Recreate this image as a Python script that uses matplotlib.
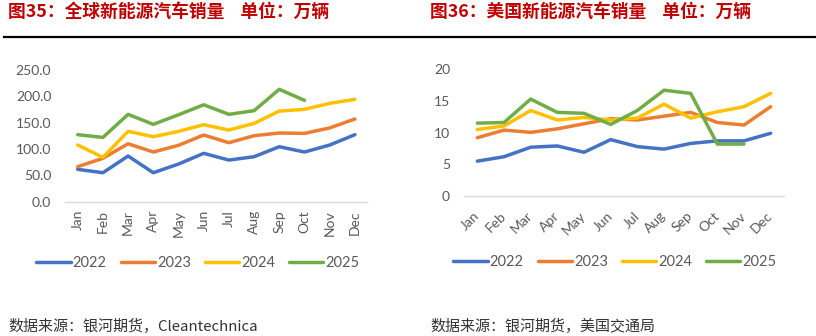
import matplotlib.pyplot as plt
from matplotlib.lines import Line2D

plt.rcParams['font.family'] = ['Lato', 'Noto Sans CJK SC', 'DejaVu Sans']

months = ['Jan', 'Feb', 'Mar', 'Apr', 'May', 'Jun', 'Jul', 'Aug', 'Sep', 'Oct', 'Nov', 'Dec']
years = ['2022', '2023', '2024', '2025']
colors = ['#4472C4', '#ED7D31', '#FFC000', '#70AD47']

# global NEV sales, 10k units
world_2022 = [61.4, 55.0, 86.7, 55.0, 71.5, 91.8, 79.0, 85.4, 104.4, 94.3, 107.6, 127.2]
world_2023 = [66.5, 82.3, 110.0, 94.3, 107.0, 126.6, 112.0, 125.3, 130.4, 129.7, 140.0, 157.0]
world_2024 = [107.6, 84.2, 133.5, 123.4, 133.5, 146.2, 136.0, 148.7, 172.0, 175.3, 186.7, 194.3]
world_2025 = [127.2, 122.0, 165.8, 146.8, 165.0, 184.0, 165.8, 172.8, 213.3, 192.4]

# US NEV sales, 10k units
us_2022 = [5.5, 6.2, 7.7, 7.9, 6.9, 8.9, 7.8, 7.4, 8.3, 8.7, 8.7, 9.9]
us_2023 = [9.2, 10.4, 10.05, 10.6, 11.4, 12.2, 12.0, 12.6, 13.2, 11.6, 11.2, 14.1]
us_2024 = [10.5, 11.05, 13.5, 12.0, 12.4, 12.0, 12.3, 14.5, 12.3, 13.3, 14.1, 16.2]
us_2025 = [11.5, 11.6, 15.3, 13.2, 13.05, 11.3, 13.5, 16.7, 16.2, 8.2, 8.2]

left_title = '图35：全球新能源汽车销量    单位：万辆'
right_title = '图36：美国新能源汽车销量    单位：万辆'
left_source = '数据来源：银河期货，Cleantechnica'
right_source = '数据来源：银河期货，美国交通局'

W, H = 816, 336
fig = plt.figure(figsize=(W / 100, H / 100), dpi=100)

tick_color = '#595959'
red = '#C00000'


def px(x0, y0, x1, y1):
    # pixel box -> figure fraction rect
    return [x0 / W, 1 - y1 / H, (x1 - x0) / W, (y1 - y0) / H]


def draw_panel(rect, series, ylim, yticks, yfmt, rot, legend_xy):
    ax = fig.add_axes(rect)
    for vals, c, lab in zip(series, colors, years):
        ax.plot(range(len(vals)), vals, color=c, lw=2.5, label=lab,
                solid_capstyle='round', solid_joinstyle='round')
    ax.set_xlim(-0.5, 11.5)
    ax.set_ylim(*ylim)
    ax.set_yticks(yticks)
    ax.set_yticklabels([yfmt.format(v) for v in yticks])
    ax.set_xticks(range(12))
    for s in ['top', 'right', 'left']:
        ax.spines[s].set_visible(False)
    ax.spines['bottom'].set_color('#D9D9D9')
    ax.spines['bottom'].set_linewidth(1.0)
    ax.tick_params(axis='both', length=0, labelsize=10, colors=tick_color)
    ax.tick_params(axis='y', pad=10)
    if rot == 90:
        ax.set_xticklabels(months, rotation=90, va='top', ha='center')
        ax.tick_params(axis='x', pad=6)
    else:
        ax.set_xticklabels(months, rotation=45, ha='right', va='center',
                           rotation_mode='anchor')
        ax.tick_params(axis='x', pad=13)
    ax.patch.set_alpha(0)
    fig.legend(*ax.get_legend_handles_labels(), loc='center',
               bbox_to_anchor=(legend_xy[0] / W, 1 - legend_xy[1] / H),
               ncol=4, frameon=False, fontsize=10.5, handlelength=2.35,
               handletextpad=0.15, columnspacing=0.95, labelcolor=tick_color)
    return ax


draw_panel(px(65.1, 70, 367.5, 201.7),
           [world_2022, world_2023, world_2024, world_2025],
           (0, 250), [0, 50, 100, 150, 200, 250], '{:.1f}', 90, (198, 263))
draw_panel(px(464, 69.3, 784, 196),
           [us_2022, us_2023, us_2024, us_2025],
           (0, 20), [0, 5, 10, 15, 20], '{:d}', 45, (615, 262))

# titles and rule under them
cjk_font = ['Noto Sans CJK SC', 'DejaVu Sans']
fig.text(8 / W, 1 - 12 / H, left_title, color=red, fontsize=12.8,
         fontweight='bold', family=cjk_font, va='center', ha='left')
fig.text(430 / W, 1 - 12 / H, right_title, color=red, fontsize=12.8,
         fontweight='bold', family=cjk_font, va='center', ha='left')
fig.add_artist(Line2D([4 / W, 1], [1 - 36.7 / H] * 2, color='black', lw=1.6))

fig.text(8 / W, 1 - 326 / H, left_source, color='#333333', fontsize=10.8,
         family=cjk_font, va='center', ha='left', fontweight='light')
fig.text(430 / W, 1 - 326 / H, right_source, color='#333333', fontsize=10.8,
         family=cjk_font, va='center', ha='left', fontweight='light')

fig.savefig('out.png', dpi=100)
